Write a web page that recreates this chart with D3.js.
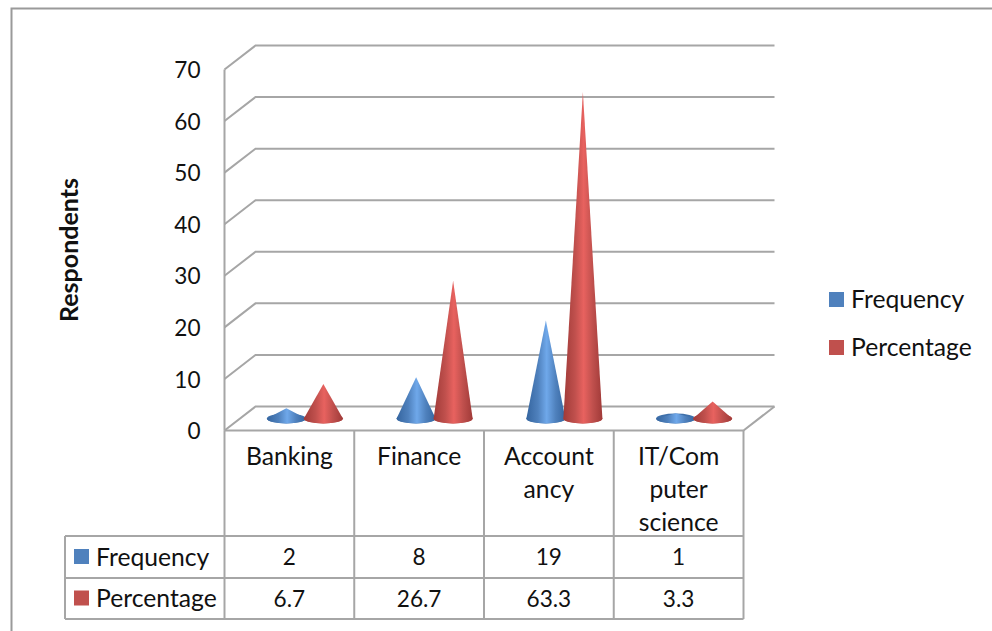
<!DOCTYPE html>
<html><head><meta charset="utf-8">
<script src="https://d3js.org/d3.v7.min.js"></script>
<style>html,body{margin:0;padding:0;background:#fff}svg{display:block}text{font-family:Lato,"Open Sans",sans-serif;fill:#111}</style>
</head><body><div id="chart"></div>
<script>
const categories = ["Banking","Finance","Accountancy","IT/Computer science"];
const categoryLines = [["Banking"],["Finance"],["Account","ancy"],["IT/Com","puter","science"]];
const seriesNames = ["Frequency","Percentage"];
const frequency = [2,8,19,1];
const percentage = [6.7,26.7,63.3,3.3];
const frequencyLabels = ["2","8","19","1"];
const percentageLabels = ["6.7","26.7","63.3","3.3"];
const yTicks = [0,10,20,30,40,50,60,70];
const yTitle = "Respondents";

const W=992,H=631, depthX=31, depthY=-24, fs=24.7, fsNum=22.6;
const solid=["#4f81bd","#c0504d"], edge=["#35659f","#a03a38"], glow=["#6fa8ea","#e8625f"], flat=["#3f70aa","#b84a47"];
const svg=d3.select("#chart").append("svg").attr("width",W).attr("height",H);
const y=d3.scaleLinear().domain([0,70]).range([430.5,69.5]);
const x=d3.scaleBand().domain(categories).range([224.5,743.5]);
const series=d3.scaleBand().domain(seriesNames).range([-37,37]);
const grid="#a6a6a6";

// frame
svg.append("path").attr("d",`M11.5,${H}V8.5H${W}`).attr("fill","none").attr("stroke","#9a9a9a").attr("stroke-width",2);

// gradients
const defs=svg.append("defs");
seriesNames.forEach((s,i)=>{
  const g=defs.append("linearGradient").attr("id","cone"+i);
  [[0,edge[i]],[.3,solid[i]],[.52,glow[i]],[.75,solid[i]],[1,edge[i]]].forEach(d=>g.append("stop").attr("offset",d[0]).attr("stop-color",d[1]));
});

// walls and gridlines
const line=(p)=>svg.append("path").attr("d",d3.line()(p)).attr("fill","none").attr("stroke",grid).attr("stroke-width",2);
yTicks.forEach(t=>{
  const a=y(t);
  line([[x.range()[0],a],[x.range()[0]+depthX,a+depthY],[x.range()[1]+depthX,a+depthY]]);
});
line([[x.range()[0],y(0)],[x.range()[0],y(70)]]);
line([[x.range()[0],y(0)],[x.range()[1],y(0)],[x.range()[1]+depthX,y(0)+depthY]]);

// y axis
const ax=svg.append("g").attr("transform",`translate(${x.range()[0]},0)`)
  .call(d3.axisLeft(y).tickValues(yTicks).tickSize(0).tickPadding(24).tickFormat(d3.format("d")));
ax.select(".domain").remove();
ax.selectAll("text").style("font-size",fsNum+"px").style("font-family","Lato").attr("fill","#111").attr("dy","0.36em");
svg.append("text").attr("transform","translate(68,250) rotate(-90)").attr("text-anchor","middle").attr("dominant-baseline","central")
  .attr("font-size",25).attr("font-weight",700).text(yTitle);

// cones
const rx=19.5, ry=5;
const midY=v=>y(v)+depthY/2, midX=c=>x(c)+x.bandwidth()/2+depthX/2;
[frequency,percentage].forEach((vals,i)=>{
  const g=svg.append("g");
  vals.forEach((v,j)=>{
    const cx=midX(categories[j])+series(seriesNames[i])+series.bandwidth()/2, by=midY(0), ay=midY(v);
    g.append("ellipse").attr("cx",cx).attr("cy",by).attr("rx",rx).attr("ry",ry).attr("fill",flat[i]);
    g.append("path").attr("fill",`url(#cone${i})`)
      .attr("d",`M${cx-rx},${by}L${cx},${ay}L${cx+rx},${by}A${rx},${ry} 0 0 1 ${cx-rx},${by}Z`);
  });
});

// data table
const rows=[536,578,619], tableLeft=65;
const cols=d3.range(categories.length+1).map(i=>x.range()[0]+i*x.bandwidth());
cols.forEach(c=>line([[c,y(0)],[c,rows[2]]]));
rows.forEach(r=>line([[tableLeft,r],[x.range()[1],r]]));
line([[tableLeft,rows[0]],[tableLeft,rows[2]]]);
categoryLines.forEach((ls,j)=>ls.forEach((t,k)=>{
  svg.append("text").attr("x",x(categories[j])+x.bandwidth()/2).attr("y",455.5+k*33).attr("text-anchor","middle")
    .attr("dominant-baseline","central").attr("font-size",fs).text(t);
}));
[frequencyLabels,percentageLabels].forEach((vals,i)=>{
  const cy=(rows[i]+rows[i+1])/2;
  vals.forEach((t,j)=>svg.append("text").attr("x",x(categories[j])+x.bandwidth()/2).attr("y",cy-0.5).attr("text-anchor","middle")
    .attr("dominant-baseline","central").attr("font-size",fsNum).text(t));
  svg.append("rect").attr("x",74).attr("y",cy-8).attr("width",15).attr("height",15).attr("fill",solid[i]);
  svg.append("text").attr("x",96).attr("y",cy-1).attr("dominant-baseline","central").attr("font-size",fs).text(seriesNames[i]);
});

// legend
seriesNames.forEach((s,i)=>{
  const cy=299.5+i*48;
  svg.append("rect").attr("x",829).attr("y",cy-7.5).attr("width",15).attr("height",15).attr("fill",solid[i]);
  svg.append("text").attr("x",851).attr("y",cy-1).attr("dominant-baseline","central").attr("font-size",fs).text(s);
});
</script></body></html>
